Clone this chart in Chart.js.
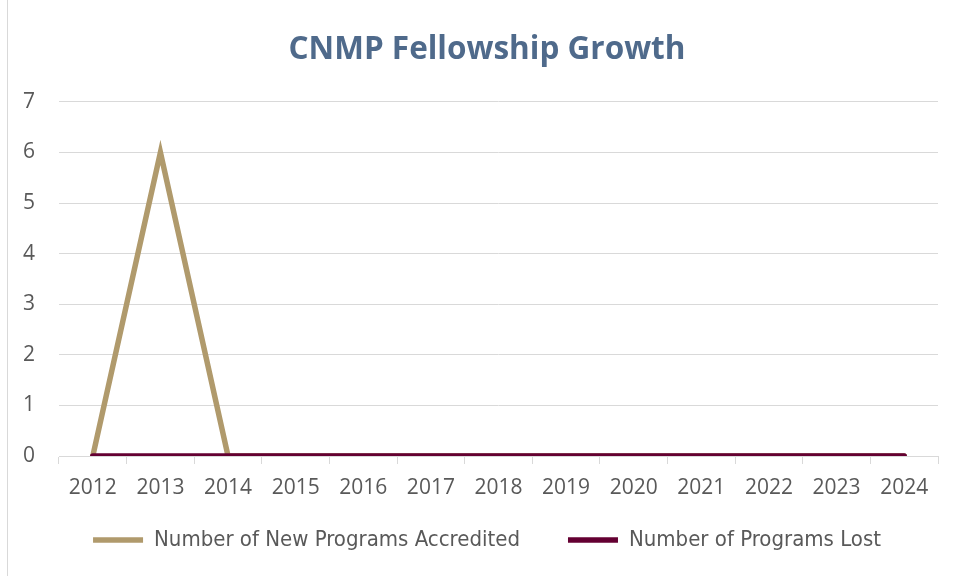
<!DOCTYPE html>
<html>
<head>
<meta charset="utf-8">
<script src="https://cdn.jsdelivr.net/npm/chart.js@4/dist/chart.umd.min.js"></script>
<style>
  html, body { margin: 0; padding: 0; background: #fff; }
  #wrap { position: relative; width: 956px; height: 576px; }
  #wrap::before { content: ''; position: absolute; left: 7px; top: 0; bottom: 0; border-left: 1px solid #d9d9d9; }
</style>
</head>
<body>
<div id="wrap"><canvas id="myChart" width="956" height="576"></canvas></div>
<script>
const years = ['2012', '2013', '2014', '2015', '2016', '2017', '2018', '2019', '2020', '2021', '2022', '2023', '2024'];
const newPrograms = [0, 6, 0, 0, 0, 0, 0, 0, 0, 0, 0, 0, 0];
const lostPrograms = [0, 0, 0, 0, 0, 0, 0, 0, 0, 0, 0, 0, 0];
const yTicks = [0, 1, 2, 3, 4, 5, 6, 7];

const ctx = document.getElementById('myChart').getContext('2d');
const FONT = "'Open Sans', sans-serif";
const NARROW = "'Liberation Sans Narrow', 'DejaVu Sans Condensed', 'Open Sans', sans-serif";
const GRAY = '#595959';

// legend padding is wide (for the gap between entries), so pull the legend text up a bit
const liftLegend = {
  id: 'liftLegend',
  afterLayout(chart) {
    chart.legend.top -= 22;
  }
};

new Chart(ctx, {
  type: 'line',
  data: {
    labels: years,
    datasets: [{
      label: 'Number of New Programs Accredited',
      data: newPrograms,
      borderColor: '#b09a6c',
      backgroundColor: '#b09a6c',
      borderWidth: 5.5,
      borderCapStyle: 'round',
      borderJoinStyle: 'miter',
      pointRadius: 0,
      pointStyle: 'line',
      order: 1
    }, {
      label: 'Number of Programs Lost',
      data: lostPrograms,
      borderColor: '#640032',
      backgroundColor: '#640032',
      borderWidth: 5.5,
      borderCapStyle: 'round',
      pointRadius: 0,
      pointStyle: 'line',
      order: 0
    }]
  },
  plugins: [liftLegend],
  options: {
    responsive: false,
    animation: false,
    layout: { padding: { left: 18, right: 0, top: 14, bottom: 15 } },
    plugins: {
      title: {
        display: true,
        text: 'CNMP Fellowship Growth',
        color: '#4f6a8b',
        font: { family: FONT, size: 31.5, weight: 'bold' },
        padding: { top: 17, bottom: 33 }
      },
      legend: {
        position: 'bottom',
        maxHeight: 58,
        labels: {
          color: GRAY,
          font: { family: NARROW, size: 22 },
          usePointStyle: true,
          pointStyleWidth: 50,
          boxHeight: 5,
          padding: 48,
          sort: (a, b) => a.datasetIndex - b.datasetIndex
        }
      },
      tooltip: { enabled: false }
    },
    scales: {
      x: {
        offset: true,
        afterFit: (scale) => { scale.height = 47; },
        grid: { offset: true, drawOnChartArea: false, color: '#d9d9d9', tickLength: 8 },
        border: { color: '#d9d9d9' },
        ticks: { color: GRAY, font: { family: FONT, size: 21 }, padding: 11, maxRotation: 0 }
      },
      y: {
        min: 0,
        max: 7,
        afterBuildTicks: (scale) => { scale.ticks = yTicks.map(v => ({ value: v })); },
        afterFit: (scale) => { scale.width = 41; },
        grid: { color: '#d9d9d9', drawTicks: false },
        border: { display: false },
        ticks: { color: GRAY, font: { family: FONT, size: 21 }, padding: 24 }
      },
      // empty right margin so the plot ends where the original does
      pad: {
        type: 'linear',
        position: 'right',
        afterFit: (scale) => { scale.width = 18; },
        grid: { display: false },
        border: { display: false },
        ticks: { display: false }
      }
    }
  }
});
</script>
</body>
</html>
